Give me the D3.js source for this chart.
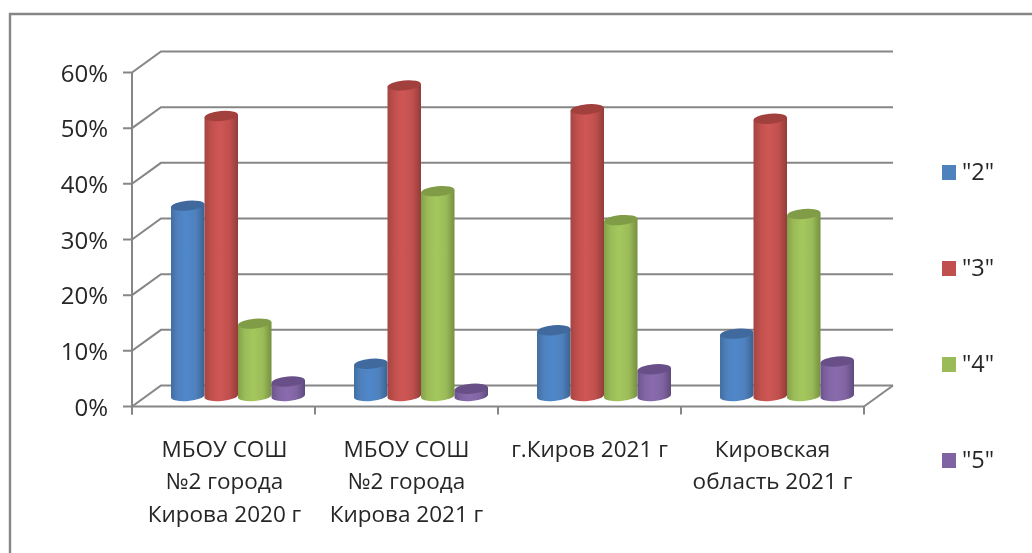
<!DOCTYPE html>
<html>
<head>
<meta charset="utf-8">
<script src="https://cdn.jsdelivr.net/npm/d3@7"></script>
<style>
  html, body { margin: 0; padding: 0; background: #fff; }
  svg { display: block; }
  text { font-family: "Open Sans", sans-serif; fill: #262626; }
</style>
</head>
<body>
<script>
// chart data
var categories = ["cat1", "cat2", "cat3", "cat4"];
var categoryLabels = [
  ["МБОУ СОШ", "№2 города", "Кирова 2020 г"],
  ["МБОУ СОШ", "№2 города", "Кирова 2021 г"],
  ["г.Киров 2021 г"],
  ["Кировская", "область 2021 г"]
];
var seriesNames = ['"2"', '"3"', '"4"', '"5"'];
var values2 = [34.2, 5.8, 11.8, 11.2];
var values3 = [50.3, 55.8, 51.5, 49.8];
var values4 = [13, 36.8, 31.6, 32.7];
var values5 = [2.6, 1.3, 4.8, 6.2];
var allValues = [values2, values3, values4, values5];
var yTicks = [0, 10, 20, 30, 40, 50, 60];

// colours: main, light middle, dark edge, top cap
var baseColors = ["#4f81bd", "#c0504d", "#9bbb59", "#8064a2"];
var lightColors = ["#5088cb", "#cf5755", "#a4c85c", "#8a6cae"];
var edgeColors = ["#3a6291", "#923c3a", "#75903f", "#5f4a7c"];
var topColors = ["#3f6a9e", "#a23f3d", "#809c46", "#694f88"];

var width = 1032;
var height = 553;
var depthX = 29;
var depthY = 21;
var lineColor = "#868686";

var svg = d3.select("body").append("svg")
  .attr("width", width)
  .attr("height", height);

var defs = svg.append("defs");
defs.append("filter").attr("id", "soft")
  .append("feGaussianBlur").attr("stdDeviation", 0.5);

baseColors.forEach(function(c, i) {
  var g = defs.append("linearGradient").attr("id", "cyl" + i);
  g.append("stop").attr("offset", "0%").attr("stop-color", d3.interpolateRgb(edgeColors[i], c)(0.4));
  g.append("stop").attr("offset", "20%").attr("stop-color", c);
  g.append("stop").attr("offset", "45%").attr("stop-color", lightColors[i]);
  g.append("stop").attr("offset", "75%").attr("stop-color", c);
  g.append("stop").attr("offset", "100%").attr("stop-color", edgeColors[i]);
});

var root = svg.append("g").attr("filter", "url(#soft)");

// outer frame, only top and left show in the crop
root.append("path")
  .attr("d", "M10,553V14H1032")
  .attr("fill", "none")
  .attr("stroke", lineColor)
  .attr("stroke-width", 2.4);

var y = d3.scaleLinear().domain([0, 60]).range([406.5, 72.5]);
var x0 = d3.scaleBand().domain(categories).range([132, 864]);
var x1 = d3.scaleBand().domain(seriesNames).range([24.5, 158.5]);

// back wall + side wall grid
var grid = root.append("g")
  .attr("fill", "none")
  .attr("stroke", lineColor)
  .attr("stroke-width", 2);

yTicks.forEach(function(t) {
  grid.append("path")
    .attr("d", "M123," + y(t) + "H132L" + (132 + depthX) + "," + (y(t) - depthY) + "H" + (864 + depthX));
});
grid.append("path")
  .attr("d", "M864," + y(0) + "L" + (864 + depthX) + "," + (y(0) - depthY));

// front axes
grid.append("path").attr("d", "M132," + y(60) + "V" + (y(0) + 8));
grid.append("path").attr("d", "M132," + y(0) + "H864");
categories.concat(["end"]).forEach(function(c) {
  var px = c == "end" ? 864 : x0(c);
  grid.append("path").attr("d", "M" + px + "," + y(0) + "V" + (y(0) + 8));
});

// y labels
root.selectAll("text.ytick")
  .data(yTicks)
  .enter().append("text")
  .attr("class", "ytick")
  .attr("x", 108)
  .attr("y", function(d) { return y(d) + 9; })
  .attr("text-anchor", "end")
  .attr("font-size", 24)
  .text(function(d) { return d + "%"; });

// cylinders
var rx = x1.bandwidth() / 2;
var ry = 5;
var tilt = -5;
var tiltDy = rx * Math.sin(5 * Math.PI / 180);

categories.forEach(function(c, ci) {
  seriesNames.forEach(function(s, si) {
    var v = allValues[si][ci];
    var left = x0(c) + x1(s) + depthX / 2;
    var right = left + x1.bandwidth();
    var cx = (left + right) / 2;
    var base = y(0) - depthY / 2;
    var top = y(v) - depthY / 2;

    var bar = root.append("g");
    bar.append("path")
      .attr("d", "M" + left + "," + (top + tiltDy) +
        "L" + left + "," + (base + tiltDy) +
        "A" + rx + "," + ry + " " + tilt + " 0 0 " + right + "," + (base - tiltDy) +
        "L" + right + "," + (top - tiltDy) + "Z")
      .attr("fill", "url(#cyl" + si + ")");
    bar.append("ellipse")
      .attr("cx", cx)
      .attr("cy", top)
      .attr("rx", rx)
      .attr("ry", ry)
      .attr("transform", "rotate(" + tilt + " " + cx + " " + top + ")")
      .attr("fill", topColors[si]);
  });
});

// category labels
var lineY = [457, 489, 522];
categories.forEach(function(c, ci) {
  categoryLabels[ci].forEach(function(line, li) {
    root.append("text")
      .attr("x", x0(c) + x0.bandwidth() / 2 + (ci == 0 ? 1 : 0))
      .attr("y", lineY[li])
      .attr("text-anchor", "middle")
      .attr("font-size", 22.5)
      .text(line);
  });
});

// legend
var legendY = d3.scalePoint().domain(seriesNames).range([172, 460]);
seriesNames.forEach(function(s, si) {
  root.append("rect")
    .attr("x", 942)
    .attr("y", legendY(s) - 7)
    .attr("width", 14)
    .attr("height", 15)
    .attr("fill", baseColors[si]);
  root.append("text")
    .attr("x", 962)
    .attr("y", legendY(s) + 8)
    .attr("font-size", 23.5)
    .text(s);
});
</script>
</body>
</html>
